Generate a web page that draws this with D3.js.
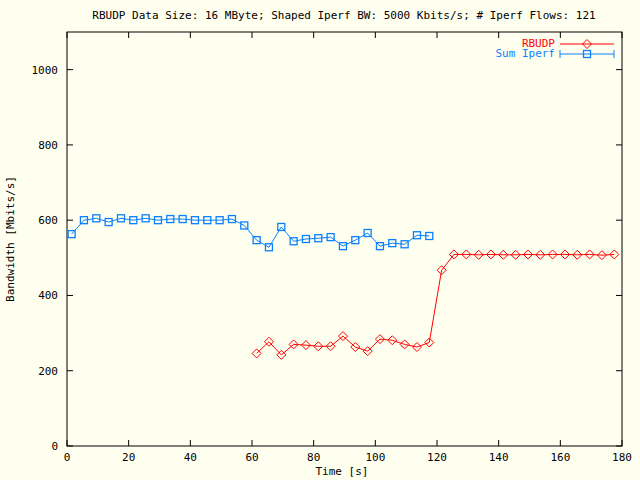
<!DOCTYPE html>
<html><head><meta charset="utf-8">
<script src="https://cdn.jsdelivr.net/npm/d3@7"></script>
<style>body{margin:0;background:#fffff0}text{font-family:"DejaVu Sans Mono",monospace;font-size:11px}</style>
</head><body>
<script>
//data
var iperfTimes = d3.range(30).map(function(k){ return 1.5 + 4*k; });
var iperfBw = [563,600,605,595,605,600,605,600,603,603,600,600,600,603,586,547,528,582,544,550,552,555,531,547,566,531,539,536,560,558];
var rbudpTimes = d3.range(30).map(function(k){ return 61.5 + 4*k; });
var rbudpBw = [246,277,242,270,268,265,265,292,263,252,284,281,270,263,275,467,509,509,508,509,508,508,509,508,509,509,508,509,507,509];
var xTicks = [0,20,40,60,80,100,120,140,160,180];
var yTicks = [0,200,400,600,800,1000];

var width = 640, height = 480;
var svg = d3.select("body").append("svg").attr("width", width).attr("height", height);
svg.append("rect").attr("width", width).attr("height", height).attr("fill", "#fffff0");

var x = d3.scaleLinear().domain([0,180]).range([67,622]);
var y = d3.scaleLinear().domain([0,1100]).range([446,32]);

//frame and ticks (mirrored like gnuplot)
svg.append("rect").attr("x",67).attr("y",32).attr("width",555).attr("height",414)
  .attr("fill","none").attr("stroke","#000");
xTicks.forEach(function(t){
  svg.append("line").attr("x1",x(t)).attr("x2",x(t)).attr("y1",446).attr("y2",440).attr("stroke","#000");
  svg.append("line").attr("x1",x(t)).attr("x2",x(t)).attr("y1",32).attr("y2",38).attr("stroke","#000");
  svg.append("text").attr("x",x(t)).attr("y",461).attr("text-anchor","middle").text(t);
});
yTicks.forEach(function(t){
  svg.append("line").attr("x1",67).attr("x2",73).attr("y1",y(t)).attr("y2",y(t)).attr("stroke","#000");
  svg.append("line").attr("x1",622).attr("x2",616).attr("y1",y(t)).attr("y2",y(t)).attr("stroke","#000");
  svg.append("text").attr("x",58).attr("y",y(t)+4).attr("text-anchor","end").text(t);
});

svg.append("text").attr("x",344).attr("y",19).attr("text-anchor","middle")
  .text("RBUDP Data Size: 16 MByte; Shaped Iperf BW: 5000 Kbits/s; # Iperf Flows: 121");
svg.append("text").attr("x",342).attr("y",475).attr("text-anchor","middle").text("Time [s]");
svg.append("text").attr("transform","translate(14,239) rotate(-90)").attr("text-anchor","middle").text("Bandwidth [Mbits/s]");

var line = d3.line().x(function(d){return x(d[0]);}).y(function(d){return y(d[1]);});
var blue = "#0a80ff", red = "#ff0000";
var iperf = d3.zip(iperfTimes, iperfBw), rbudp = d3.zip(rbudpTimes, rbudpBw);

svg.append("path").datum(iperf).attr("d", line).attr("fill","none").attr("stroke",blue);
svg.selectAll(".sq").data(iperf).enter().append("rect")
  .attr("x",function(d){return x(d[0])-3.5;}).attr("y",function(d){return y(d[1])-3.5;})
  .attr("width",7).attr("height",7).attr("fill","none").attr("stroke",blue).attr("stroke-width",1.3);

svg.append("path").datum(rbudp).attr("d", line).attr("fill","none").attr("stroke",red);
svg.selectAll(".dm").data(rbudp).enter().append("path")
  .attr("d",function(d){var cx=x(d[0]),cy=y(d[1]);return "M"+cx+","+(cy-4.5)+"L"+(cx+4.5)+","+cy+"L"+cx+","+(cy+4.5)+"L"+(cx-4.5)+","+cy+"Z";})
  .attr("fill","none").attr("stroke",red);

//legend
svg.append("text").attr("x",555).attr("y",47).attr("text-anchor","end").attr("fill",red).text("RBUDP");
svg.append("line").attr("x1",560).attr("x2",614).attr("y1",44).attr("y2",44).attr("stroke",red);
svg.append("path").attr("d","M587,39.5L591.5,44L587,48.5L582.5,44Z").attr("fill","none").attr("stroke",red);
svg.append("text").attr("x",555).attr("y",57).attr("text-anchor","end").attr("fill",blue).text("Sum Iperf");
svg.append("line").attr("x1",560).attr("x2",614).attr("y1",54).attr("y2",54).attr("stroke",blue);
svg.append("line").attr("x1",560).attr("x2",560).attr("y1",50).attr("y2",58).attr("stroke",blue);
svg.append("line").attr("x1",614).attr("x2",614).attr("y1",50).attr("y2",58).attr("stroke",blue);
svg.append("rect").attr("x",583.5).attr("y",50.5).attr("width",7).attr("height",7).attr("fill","none").attr("stroke",blue).attr("stroke-width",1.3);
</script>
</body></html>
